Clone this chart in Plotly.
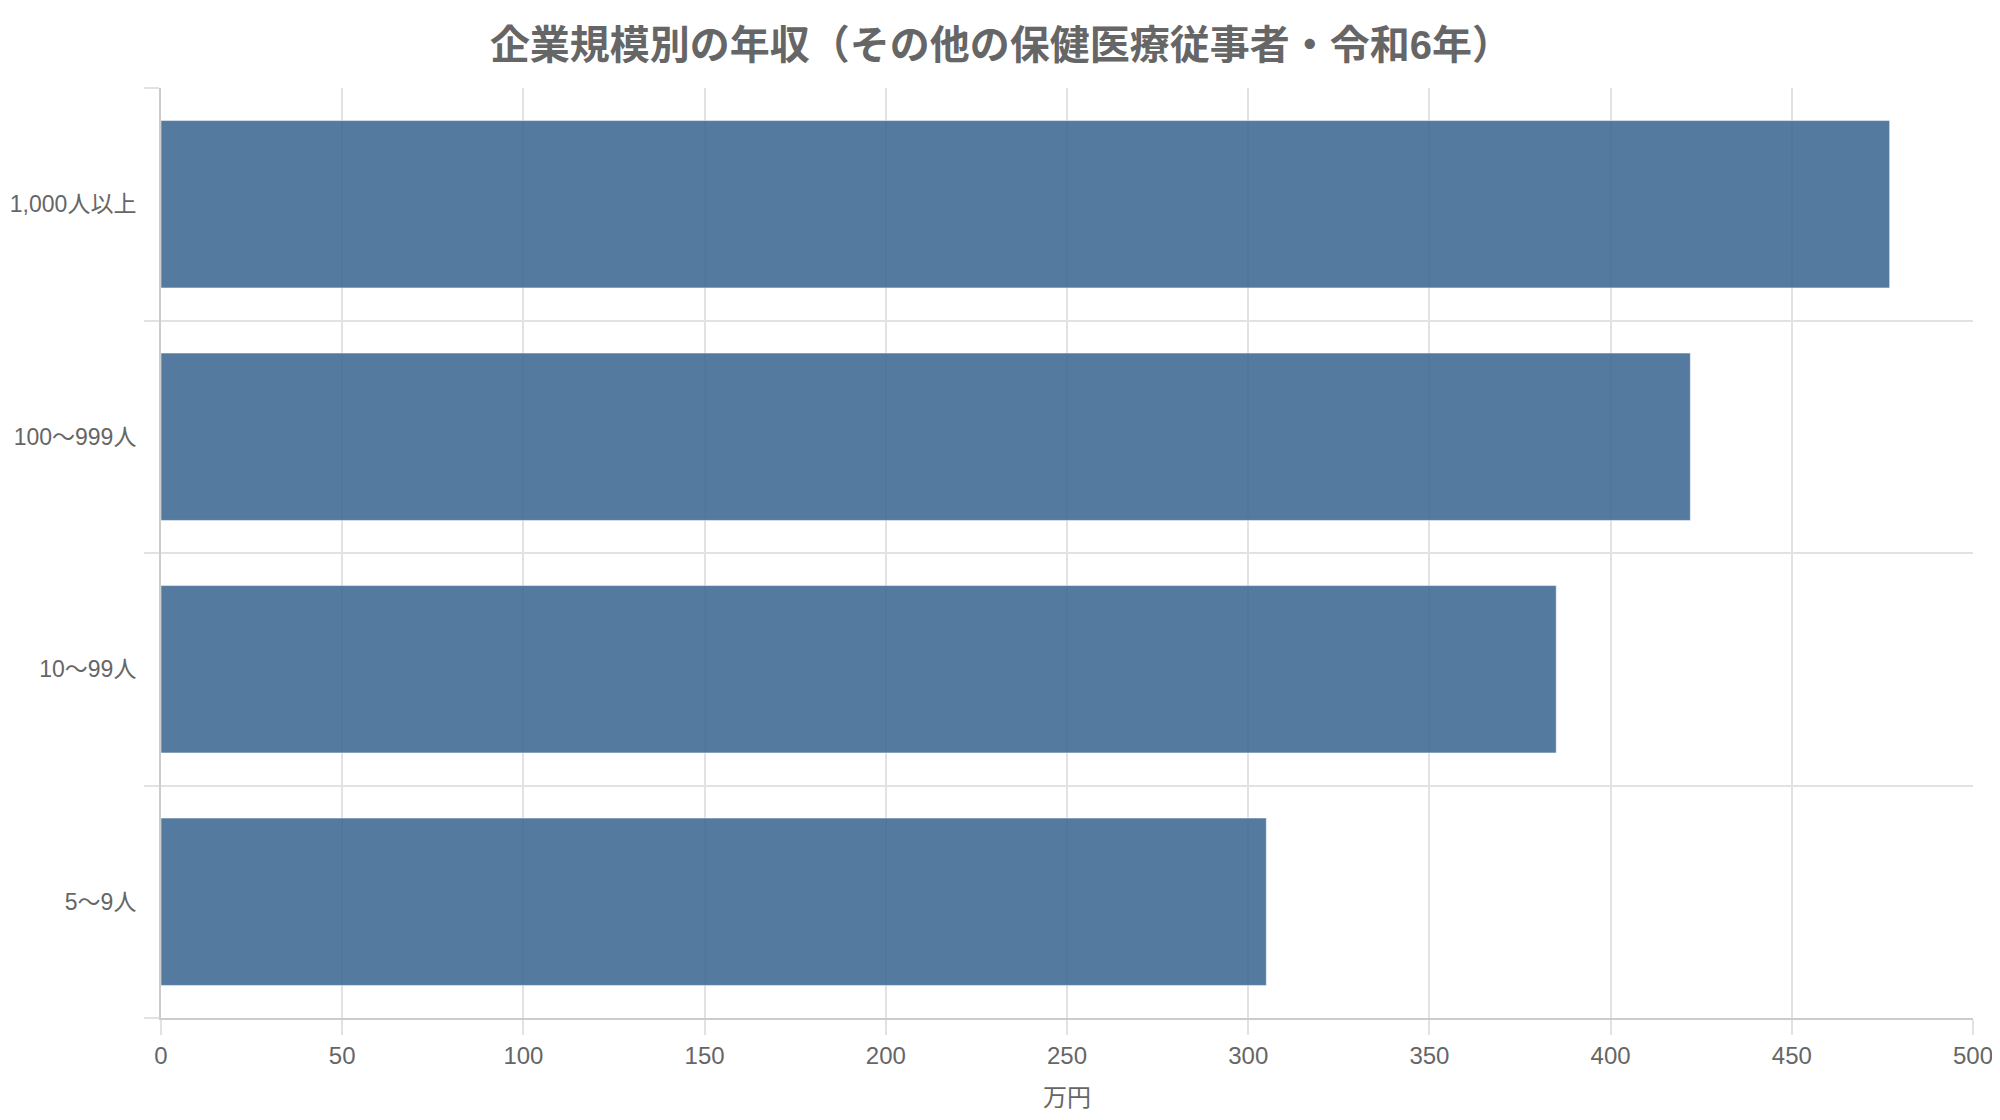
import plotly.graph_objects as go

# 企業規模別の年収(その他の保健医療従事者・令和6年)
categories = ["5〜9人", "10〜99人", "100〜999人", "1,000人以上"]
salary = [305, 385, 422, 477]  # 万円
x_ticks = [0, 50, 100, 150, 200, 250, 300, 350, 400, 450, 500]

INK = "#666666"
GRID = "#e2e2e2"
AXIS = "#cccccc"
BAR = "rgb(66,108,149)"
FONT = "Arial, 'Liberation Sans', 'Noto Sans CJK JP', sans-serif"

fig = go.Figure(go.Bar(
    x=salary, y=categories, orientation="h",
    marker=dict(color=BAR, opacity=0.9,
                line=dict(color="rgba(255,255,255,0.5)", width=1)),
    hovertemplate="%{y}: %{x}万円<extra></extra>",
))

fig.update_layout(
    width=2000, height=1120,
    paper_bgcolor="white", plot_bgcolor="white",
    font=dict(family=FONT, color=INK, size=24),
    title=dict(text="<b>企業規模別の年収（その他の保健医療従事者・令和6年）</b>",
               x=0.4965, xanchor="center", y=0.967, yanchor="middle",
               font=dict(size=40, color=INK, family=FONT)),
    margin=dict(l=153, r=35, t=80, b=110),
    bargap=0.28,
    showlegend=False,
)
fig.update_xaxes(
    range=[0, 500], tickvals=x_ticks,
    showgrid=True, gridcolor=GRID, gridwidth=1.5,
    showline=True, linecolor=AXIS, linewidth=2,
    ticks="outside", ticklen=15, tickcolor=GRID, tickwidth=1.5,
    zeroline=False,
    title=dict(text="万円", font=dict(size=24, color=INK), standoff=21),
)
fig.update_yaxes(
    categoryorder="array", categoryarray=categories,
    tickson="boundaries", ticks="outside", ticklen=15,
    tickcolor=GRID, tickwidth=1.5, ticklabelstandoff=18,
    tickfont=dict(size=23),
    showgrid=True, gridcolor=GRID, gridwidth=1.5,
    showline=True, linecolor=AXIS, linewidth=2,
    automargin=False,
)

fig.write_html("out.html")
